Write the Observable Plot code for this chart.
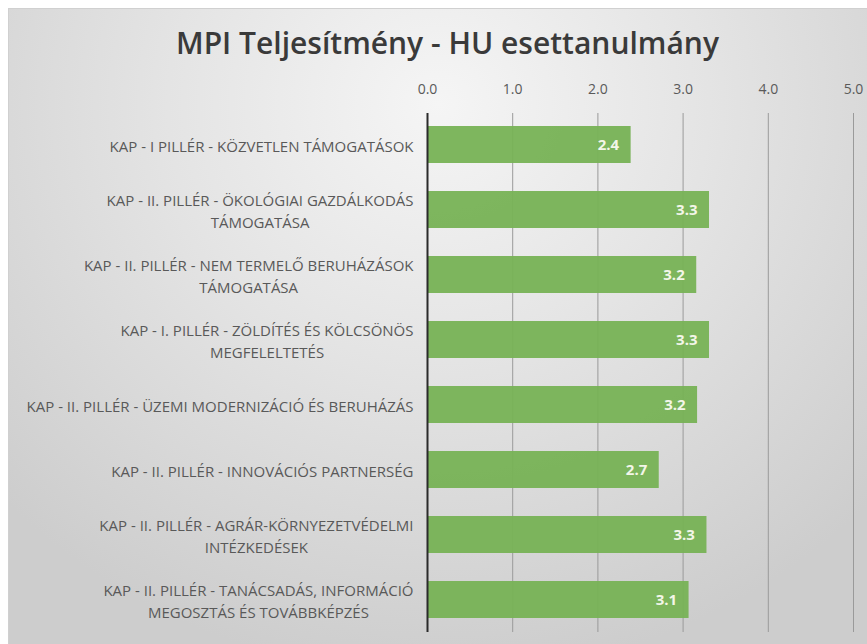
<!DOCTYPE html>
<html>
<head>
<meta charset="utf-8">
<script src="https://cdn.jsdelivr.net/npm/d3@7"></script>
<script src="https://cdn.jsdelivr.net/npm/@observablehq/plot@0.6"></script>
<style>
  html, body { margin: 0; padding: 0; background: #ffffff; }
  body { position: relative; width: 867px; height: 644px; overflow: hidden; }
  #frame {
    position: absolute; left: 8px; top: 8px; width: 859px; height: 636px;
    border-top: 1px solid #d0d0d0; border-left: 1px solid #d0d0d0;
    background: radial-gradient(ellipse 70% 90% at 50% 15%, #f5f5f5 0%, #e4e4e4 45%, #cdcdcd 100%);
  }
  #title {
    position: absolute; left: 0; top: 28px; width: 895px; text-align: center;
    font-family: "Open Sans", sans-serif;
    font-size: 30px; font-weight: 600; color: #3a3a3a; line-height: 1;
  }
  #chart { position: absolute; left: 0; top: 60px; }
</style>
</head>
<body>
<div id="frame"></div>
<div id="title">MPI Teljesítmény - HU esettanulmány</div>
<div id="chart"></div>
<script>
const categories = [
  "KAP - I PILLÉR - KÖZVETLEN TÁMOGATÁSOK",
  "KAP - II. PILLÉR - ÖKOLÓGIAI GAZDÁLKODÁS\nTÁMOGATÁSA",
  "KAP - II. PILLÉR - NEM TERMELŐ BERUHÁZÁSOK\nTÁMOGATÁSA",
  "KAP - I. PILLÉR - ZÖLDÍTÉS ÉS KÖLCSÖNÖS\nMEGFELELTETÉS",
  "KAP - II. PILLÉR - ÜZEMI MODERNIZÁCIÓ ÉS BERUHÁZÁS",
  "KAP - II. PILLÉR - INNOVÁCIÓS PARTNERSÉG",
  "KAP - II. PILLÉR - AGRÁR-KÖRNYEZETVÉDELMI\nINTÉZKEDÉSEK",
  "KAP - II. PILLÉR - TANÁCSADÁS, INFORMÁCIÓ\nMEGOSZTÁS ÉS TOVÁBBKÉPZÉS"
];
const values = [2.39, 3.31, 3.16, 3.31, 3.17, 2.72, 3.28, 3.07];
const xTicks = [0, 1, 2, 3, 4, 5];

const data = categories.map((c, i) => ({category: c, value: values[i]}));
const fmt = d3.format(".1f");
const FONT = '"Open Sans", sans-serif';
const LABEL_SIZE = 15;

function centerLines(index, scales, vals, dims, context, next) {
  const g = next(index, scales, vals, dims, context);
  const ctx = document.createElement("canvas").getContext("2d");
  ctx.font = `${LABEL_SIZE}px ${FONT}`;
  for (const t of g.querySelectorAll("text")) {
    const spans = [...t.querySelectorAll("tspan")].map(s => s.textContent);
    const lines = spans.length ? spans : [t.textContent];
    const w = Math.max(...lines.map(l => ctx.measureText(l).width));
    t.setAttribute("text-anchor", "middle");
    t.setAttribute("transform", (t.getAttribute("transform") || "") + ` translate(${-w / 2},0)`);
  }
  return g;
}

const chart = Plot.plot({
  width: 867,
  height: 584,
  marginLeft: 427,
  marginRight: 14,
  marginTop: 53,
  marginBottom: 12,
  style: {background: "transparent", fontFamily: FONT, fontSize: "14px", color: "#5a5a5a"},
  x: {domain: [0, 5], axis: "top", ticks: xTicks, tickFormat: fmt, tickSize: 0, tickPadding: 20, label: null},
  y: {domain: categories, axis: null, paddingInner: 0.43, paddingOuter: 0.2},
  marks: [
    Plot.ruleX(xTicks.filter(d => d > 0), {stroke: "#9a9a9a", strokeWidth: 1}),
    Plot.barX(data, {x: "value", y: "category", fill: "#77b255", fillOpacity: 0.95}),
    Plot.ruleX([0], {stroke: "#2b2b2b", strokeWidth: 2}),
    Plot.text(data, {x: "value", y: "category", text: d => fmt(d.value), textAnchor: "end", dx: -12,
      fill: "#f3f6e8", fontWeight: "bold", fontSize: 15}),
    Plot.text(data, {x: 0, y: "category", text: "category", textAnchor: "end", dx: -14,
      fill: "#595959", fontSize: LABEL_SIZE, lineHeight: 1.45, render: centerLines})
  ]
});
document.getElementById("chart").appendChild(chart);
</script>
</body>
</html>
